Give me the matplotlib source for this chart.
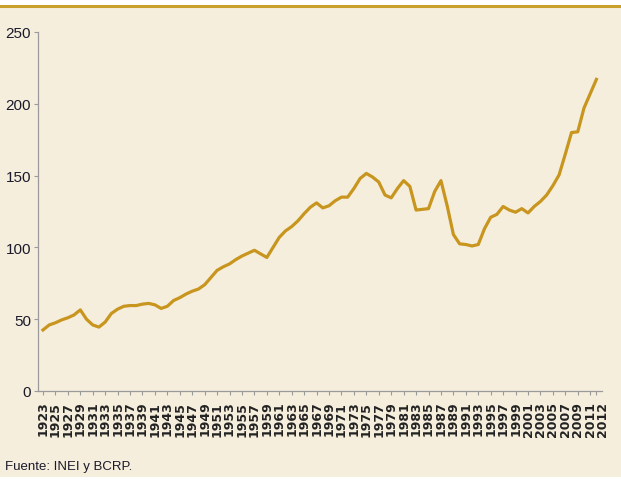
import matplotlib
matplotlib.use("Agg")
import matplotlib.pyplot as plt
from matplotlib.patches import Rectangle
from matplotlib.lines import Line2D

years = list(range(1923, 2013))
values = [42.5, 46, 47.5, 49.5, 51, 53, 56.5, 50, 46, 44.5,
          48, 54, 57, 59, 59.5, 59.5, 60.5, 61, 60, 57.5,
          59, 63, 65, 67.5, 69.5, 71, 74, 79, 84, 86.5,
          88.5, 91.5, 94, 96, 98, 95.5, 93, 100, 107, 111.5,
          114.5, 118.5, 123.5, 128, 131, 127.5, 129, 132.5, 135, 135,
          141, 148, 151.5, 149, 145.5, 136.5, 134.5, 141, 146.5, 142.5,
          126, 126.5, 127, 139, 146.5, 129, 109, 102.5, 102, 101,
          102, 113, 121, 123, 128.5, 126, 124.5, 127, 124, 128.5,
          132, 136.5, 143, 150.5, 165, 180, 180.5, 197, 207, 217]
tick_years = list(range(1923, 2012, 2)) + [2012]
y_ticks = [0, 50, 100, 150, 200, 250]
source = "Fuente: INEI y BCRP."

W, H = 621, 489
fig = plt.figure(figsize=(W / 100, H / 100), dpi=100)
fig.patch.set_facecolor("white")
bg = "#f6eedd"
fig.add_artist(Rectangle((0, (H - 478) / H), 1, (478 - 7) / H, transform=fig.transFigure,
                         facecolor=bg, edgecolor="none", zorder=0))
fig.add_artist(Line2D([0, 1], [(H - 7) / H] * 2, transform=fig.transFigure,
                      color="#c9a02c", lw=2.2, zorder=1))

ax = fig.add_axes([38 / W, (H - 392) / H, (602 - 38) / W, (392 - 33) / H])
ax.set_facecolor("none")
ax.plot(years, values, color="#c8961e", lw=2.3, solid_joinstyle="round")
ax.set_xlim(1922.2, 2012.9)
ax.set_ylim(0, 250)
for s in ["top", "right"]:
    ax.spines[s].set_visible(False)
for s in ["left", "bottom"]:
    ax.spines[s].set_color("#9a9a9a")
    ax.spines[s].set_linewidth(0.9)
ax.set_yticks(y_ticks)
ax.set_yticklabels([str(v) for v in y_ticks], fontfamily="Liberation Sans", fontsize=11,
                   color="#1a1a2a")
ax.set_xticks(tick_years)
labels = ax.set_xticklabels([str(y) for y in tick_years], rotation=90, fontsize=9,
                            fontweight="bold", color="#222222", va="top")
# the last label sits just right of the previous one
labels[-1].set_ha("left")
ax.tick_params(axis="both", length=3, width=0.8, color="#9a9a9a", pad=2)
ax.tick_params(axis="x", pad=4)

fig.text(5 / W, 1 - 467 / H, source, fontfamily="Liberation Sans", fontsize=9.5,
         color="#1a1a2a", va="center", ha="left")

fig.savefig("out.png", dpi=100, facecolor=fig.get_facecolor())
